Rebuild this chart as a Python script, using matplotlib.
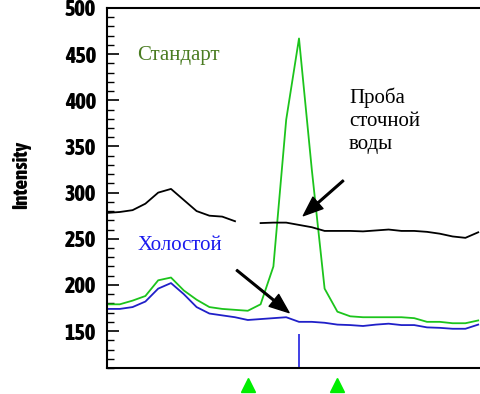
import numpy as np
import matplotlib
matplotlib.use('Agg')
from matplotlib import pyplot as plt
from matplotlib import font_manager
from matplotlib.ticker import MultipleLocator

# readings at 30 equally spaced positions
standard = [179, 179, 183, 188, 205, 208, 194, 184, 176, 174,
            173, 172, 179, 220, 379, 467, 325, 196, 171, 166,
            165, 165, 165, 165, 164, 160, 160, 158.5, 158.5, 161.5]
sample = [278, 279, 281, 288, 300, 304, 292, 280, 275, 274,
          269, np.nan, 267, 267.5, 267.5, 265, 262.5, 258.5, 258.5, 258.5,
          258, 259, 260, 258.5, 258.5, 257.5, 255.5, 252.5, 251, 257]
blank = [174, 174, 176, 182, 196, 202, 190, 176, 169, 167,
         165, 162, 163, 164, 165, 160, 160, 159, 157, 156.5,
         155.5, 157, 158, 156.5, 156.5, 154, 153.5, 152.5, 152.5, 157]
marker_pos = [11, 18]
blank_bar = (15, 147)

# look for a narrow bold face for the axis text
narrow = None
for f in font_manager.fontManager.ttflist:
    if ('Narrow' in f.name or 'Condensed' in f.name) and f.weight in ('bold', 700, 800, 900):
        narrow = f.name
        break
if narrow is None:
    for f in font_manager.fontManager.ttflist:
        if 'Narrow' in f.name or 'Condensed' in f.name or f.stretch == 'condensed':
            narrow = f.name
            break
axis_font = [narrow, 'DejaVu Sans'] if narrow else ['DejaVu Sans']
stretch = 'normal' if narrow else 'condensed'

x = np.arange(len(standard))

fig = plt.figure(figsize=(4.8, 3.94), dpi=100)
ax = fig.add_axes([0.2229, 0.066, 0.7771, 0.9137])

ax.plot(x, standard, color='#1cc41c', lw=1.3)
ax.plot(x, sample, color='black', lw=1.3)
ax.plot(x, blank, color='#2020c8', lw=1.3)
ax.vlines(blank_bar[0], 110, blank_bar[1], color='#2020e0', lw=1.2)
ax.plot(marker_pos, [91.5] * len(marker_pos), '^', color='#00ee00',
        markersize=10, clip_on=False)

ax.set_xlim(0, 29.14)
ax.set_ylim(110, 500)
ax.set_xticks([])
ax.yaxis.set_major_locator(MultipleLocator(50))
ax.yaxis.set_minor_locator(MultipleLocator(10))
ax.set_yticks([150, 200, 250, 300, 350, 400, 450, 500])
ax.tick_params(axis='y', which='major', direction='in', length=8.6, width=1.2, pad=8)
ax.tick_params(axis='y', which='minor', direction='in', length=5, width=1)
for lab in ax.get_yticklabels():
    lab.set_family(axis_font)
    lab.set_fontweight('heavy')
    lab.set_fontstretch(stretch)
    lab.set_fontsize(16)

ax.spines['right'].set_visible(False)
for s in ['left', 'top', 'bottom']:
    ax.spines[s].set_linewidth(1.5)

fig.text(0.044, 0.555, 'Intensity', rotation=90, ha='center', va='center',
         family=axis_font, fontweight='heavy', fontstretch=stretch, fontsize=15)

serif = ['Liberation Serif', 'DejaVu Serif']
ax.text(2.35, 448, 'Стандарт', color='#4a7c22', fontsize=15, family=serif, va='center')
ax.text(2.4, 243, 'Холостой', color='#1a1aee', fontsize=15, family=serif, va='center')
ax.text(18.9, 378, 'Проба\nсточной\nводы', color='black', fontsize=15, family=serif,
        va='center', linespacing=1.3)

arrow = dict(facecolor='black', edgecolor='black', width=1.2, headwidth=11, headlength=14)
ax.annotate('', xy=(15.34, 275), xytext=(18.46, 313), arrowprops=arrow)
ax.annotate('', xy=(14.22, 170), xytext=(10.13, 216), arrowprops=arrow)

fig.savefig('out.png', dpi=100)
